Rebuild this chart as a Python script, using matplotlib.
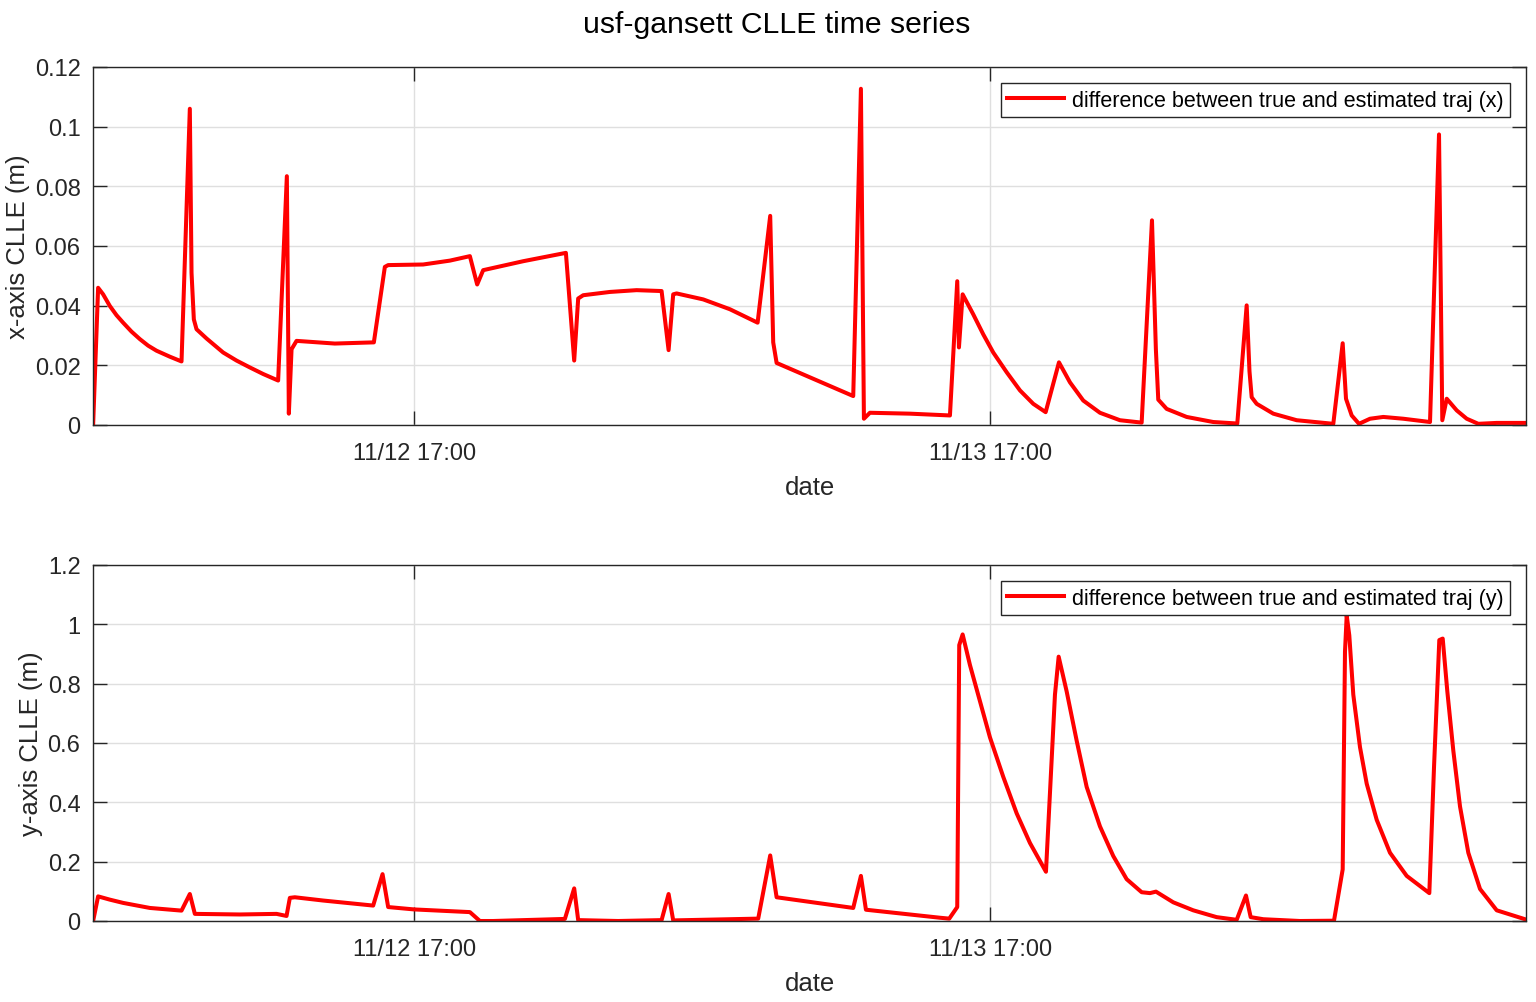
import numpy as np
import matplotlib
matplotlib.use("Agg")
import matplotlib.pyplot as plt
import matplotlib.dates as mdates
from datetime import datetime, timedelta

plt.rcParams['font.family'] = ['Liberation Sans', 'DejaVu Sans']

# time in hours since 11/12 00:00
t0 = datetime(2023, 11, 12)
x_lim_h = [3.62, 63.32]

# x-axis CLLE (m)
hx = [3.625, 3.833, 4.042, 4.321, 4.6, 4.875, 5.225, 5.571, 5.917, 6.267, 6.821, 7.308,
      7.654, 7.725, 7.821, 7.933, 8.35, 9.042, 9.6, 10.154, 10.708, 11.333,
      11.696, 11.779, 11.892, 12.1, 13.696, 15.321, 15.779,
      15.917, 17.375, 18.488, 19.321, 19.625, 19.875, 21.542, 23.321, 23.667, 23.833,
      24.042, 25.154, 26.267, 27.308, 27.6, 27.792, 27.933, 29.042, 30.154, 31.308,
      31.833, 31.958, 32.1, 35.292, 35.612, 35.737, 35.987, 37.654, 39.321, 39.625,
      39.696, 39.85, 40.292, 40.708, 41.125, 41.683, 42.238, 42.792, 43.308, 43.863,
      44.321, 44.875, 45.571, 46.404, 47.308, 47.738, 47.9, 48.0, 48.35, 49.183,
      50.292, 51.292, 51.683, 51.8, 51.892, 52.1, 52.792, 53.767, 55.292, 55.683,
      55.821, 56.058, 56.363, 56.821, 57.375, 58.208, 59.321, 59.696, 59.833, 60.017,
      60.433, 60.85, 61.333, 62.1, 63.279, 63.32]
vx = [0.0, 0.046, 0.0438, 0.0399, 0.0368, 0.0343, 0.0313, 0.0288, 0.0266, 0.0249, 0.0229, 0.0213,
      0.106, 0.051, 0.0354, 0.0321, 0.029, 0.0243, 0.0216, 0.0193, 0.0171, 0.0149,
      0.0834, 0.0038, 0.0254, 0.0282, 0.0273, 0.0277, 0.053,
      0.0536, 0.0538, 0.0551, 0.0566, 0.0471, 0.0519, 0.0549, 0.0577, 0.0216, 0.0424,
      0.0435, 0.0446, 0.0452, 0.0449, 0.0251, 0.0438, 0.0441, 0.0421, 0.0388, 0.0343,
      0.0701, 0.0277, 0.0208, 0.0097, 0.1127, 0.0021, 0.0041, 0.0038, 0.0032, 0.0482,
      0.026, 0.0438, 0.0371, 0.0304, 0.0243, 0.0177, 0.0116, 0.0071, 0.0043, 0.021,
      0.0143, 0.0082, 0.0041, 0.0016, 0.0008, 0.0686, 0.0254, 0.0085, 0.0054, 0.0027,
      0.001, 0.0005, 0.0401, 0.018, 0.0093, 0.0071, 0.0038, 0.0016, 0.0004, 0.0274,
      0.0088, 0.0032, 0.0004, 0.0021, 0.0027, 0.0021, 0.001, 0.0974, 0.0016, 0.0088,
      0.0049, 0.0021, 0.0004, 0.0007, 0.0007, 0.0007]

# y-axis CLLE (m)
hy = [3.625, 3.833, 4.321, 4.875, 5.988, 7.308, 7.654, 7.863, 9.738, 11.267, 11.683, 11.821,
      12.029, 13.208, 15.292, 15.683, 15.917, 17.0, 19.321, 19.738, 20.292, 23.279,
      23.667, 23.833, 25.5, 27.308, 27.6, 27.792, 31.333, 31.833, 32.1, 35.292, 35.612,
      35.821, 38.904, 39.292, 39.625, 39.708, 39.85, 40.154, 40.571, 40.988, 41.542,
      42.1, 42.654, 43.321, 43.696, 43.85, 44.183, 44.6, 45.017, 45.571, 46.125,
      46.683, 47.308, 47.654, 47.904, 48.625, 49.458, 50.433, 51.267, 51.654, 51.85,
      52.375, 53.904, 55.321, 55.683, 55.779, 55.85, 55.958, 56.125, 56.404, 56.683,
      57.1, 57.654, 58.35, 59.292, 59.488, 59.708, 59.85, 60.042, 60.292, 60.571,
      60.917, 61.404, 62.1, 63.279, 63.32]
vy = [0.0, 0.083, 0.072, 0.061, 0.044, 0.035, 0.091, 0.024, 0.022, 0.024, 0.017, 0.078,
      0.080, 0.069, 0.052, 0.158, 0.047, 0.039, 0.030, 0.0, 0.0, 0.007,
      0.11, 0.003, 0.0, 0.003, 0.091, 0.002, 0.008, 0.221, 0.08, 0.044, 0.152,
      0.038, 0.011, 0.008, 0.047, 0.93, 0.966, 0.863, 0.741, 0.619, 0.486,
      0.363, 0.263, 0.166, 0.763, 0.891, 0.774, 0.608, 0.452, 0.319, 0.219,
      0.141, 0.097, 0.094, 0.099, 0.063, 0.036, 0.013, 0.004, 0.086, 0.013,
      0.006, 0.0, 0.001, 0.174, 0.908, 1.03, 0.963, 0.763, 0.586, 0.463,
      0.341, 0.23, 0.152, 0.094, 0.519, 0.947, 0.952, 0.774, 0.574, 0.386,
      0.23, 0.108, 0.036, 0.006, 0.005]

xtick_h = [17, 41]
panels = [
    (hx, vx, 'x-axis CLLE (m)', 'difference between true and estimated traj (x)',
     [0, 0.12], [0, 0.02, 0.04, 0.06, 0.08, 0.1, 0.12],
     ['0', '0.02', '0.04', '0.06', '0.08', '0.1', '0.12']),
    (hy, vy, 'y-axis CLLE (m)', 'difference between true and estimated traj (y)',
     [0, 1.2], [0, 0.2, 0.4, 0.6, 0.8, 1.0, 1.2],
     ['0', '0.2', '0.4', '0.6', '0.8', '1', '1.2']),
]

def to_dt(hours):
    return [t0 + timedelta(hours=h) for h in hours]

fig = plt.figure(figsize=(15.36, 10.03), dpi=100)
rects = [[93/1536, 577/1003, 1433/1536, 358/1003],
         [93/1536, 81/1003, 1433/1536, 356/1003]]
txt = '#262626'

for rect, (h, v, ylab, leg, ylim, yt, ytl) in zip(rects, panels):
    ax = fig.add_axes(rect)
    ax.plot(to_dt(h), v, color='#ff0000', lw=2.9, label=leg)
    ax.set_xlim(to_dt(x_lim_h))
    ax.set_ylim(ylim)
    ax.set_yticks(yt)
    ax.set_yticklabels(ytl)
    ax.set_xticks(to_dt(xtick_h))
    ax.xaxis.set_major_formatter(mdates.DateFormatter('%m/%d %H:%M'))
    ax.grid(True, color='#dfdfdf', lw=1.0)
    ax.set_axisbelow(True)
    ax.tick_params(direction='in', length=10, width=1.0, colors=txt, labelsize=17,
                   top=True, right=True)
    ax.tick_params(axis='x', pad=12)
    ax.tick_params(axis='y', pad=9)
    for s in ax.spines.values():
        s.set_color(txt)
        s.set_linewidth(1.0)
    ax.set_xlabel('date', fontsize=18.5, color=txt, labelpad=8)
    ax.set_ylabel(ylab, fontsize=18.5, color=txt, labelpad=3.5)
    lg = ax.legend(loc='upper right', fontsize=15.5, fancybox=False, framealpha=1,
                   edgecolor='#262626', handlelength=2.65, handletextpad=0.35,
                   borderaxespad=0.75, borderpad=0.3)
    lg.get_frame().set_linewidth(1.0)

fig.text(777/1536, 1 - 25/1003, 'usf-gansett CLLE time series', ha='center', va='center',
         fontsize=21.7, color='black')

fig.savefig('out.png', dpi=100)
